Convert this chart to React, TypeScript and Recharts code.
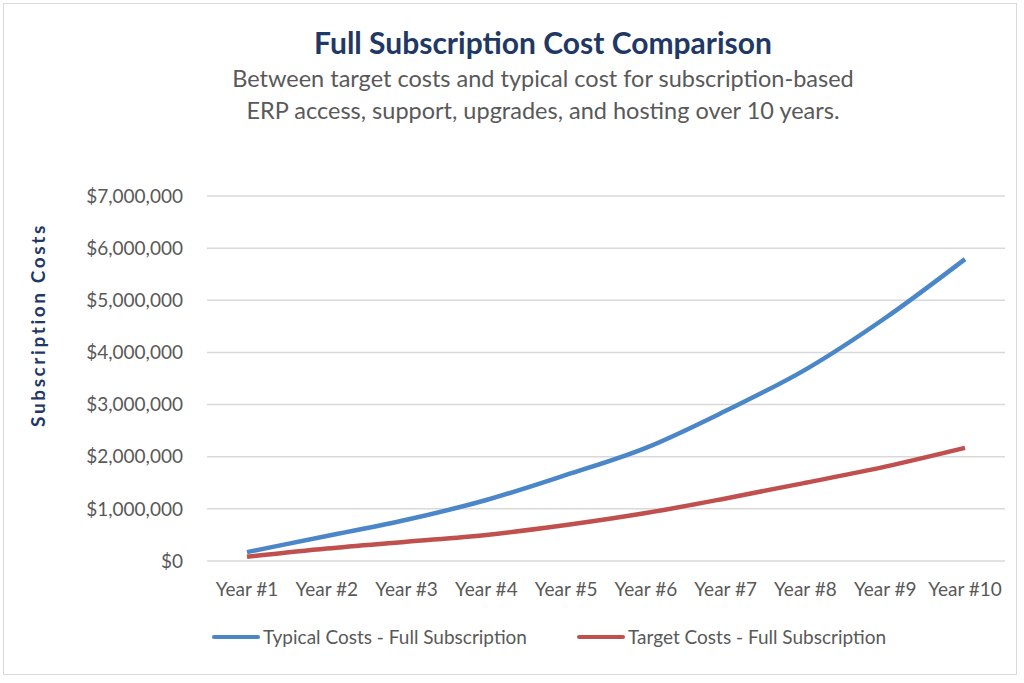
import {CartesianGrid, Legend, Line, LineChart, XAxis, YAxis} from 'recharts'

const years = ['Year #1', 'Year #2', 'Year #3', 'Year #4', 'Year #5', 'Year #6', 'Year #7', 'Year #8', 'Year #9', 'Year #10']
const typicalCosts = [170000, 480000, 790000, 1170000, 1650000, 2170000, 2880000, 3670000, 4660000, 5790000]
const targetCosts = [80000, 240000, 370000, 500000, 690000, 920000, 1200000, 1500000, 1810000, 2170000]
const yTicks = [0, 1000000, 2000000, 3000000, 4000000, 5000000, 6000000, 7000000]

const FONT = 'Lato, "Open Sans", sans-serif'
const BLUE = '#4A86C8'
const RED = '#C0504D'
const GRAY = '#595959'
const NAVY = '#1F3864'

const data = years.map((y, i) => ({year: y, typical: typicalCosts[i], target: targetCosts[i]}))
const money = new Intl.NumberFormat('en-US', {style: 'currency', currency: 'USD', maximumFractionDigits: 0})

function LegendBox() {
    const items = [
        {label: 'Typical Costs - Full Subscription', color: BLUE, x: 212},
        {label: 'Target Costs - Full Subscription', color: RED, x: 577},
    ]
    return (
        <div style={{position: 'relative', height: 24}}>
            {items.map(it => (
                <div key={it.label} style={{position: 'absolute', left: it.x, top: 0, display: 'flex', alignItems: 'center'}}>
                    <span style={{display: 'inline-block', width: 48, height: 4, borderRadius: 2, background: it.color, marginRight: 3}}/>
                    <span style={{fontFamily: FONT, fontSize: 19, color: GRAY}}>{it.label}</span>
                </div>
            ))}
        </div>
    )
}

export default function App() {
    return (
        <div style={{position: 'absolute', left: 0, top: 0, width: 1024, height: 683, background: '#fff'}}>
            <div style={{position: 'absolute', left: 3, top: 3, width: 1014, height: 672, border: '1px solid #d9d9d9', boxSizing: 'border-box'}}/>
            <div style={{position: 'absolute', left: 0, width: 1086, top: 24, textAlign: 'center', fontFamily: FONT, fontWeight: 700, fontSize: 30, color: NAVY}}>
                Full Subscription Cost Comparison
            </div>
            <div style={{position: 'absolute', left: 0, width: 1086, top: 62, textAlign: 'center', fontFamily: FONT, fontSize: 23.5, lineHeight: '32px', color: GRAY}}>
                Between target costs and typical cost for subscription-based<br/>
                ERP access, support, upgrades, and hosting over 10 years.
            </div>
            <div style={{
                position: 'absolute', left: 37, top: 325, transform: 'translate(-50%, -50%) rotate(-90deg)',
                whiteSpace: 'nowrap', fontFamily: FONT, fontWeight: 700, fontSize: 19, letterSpacing: 2.6, color: NAVY,
            }}>
                Subscription Costs
            </div>
            <div style={{position: 'absolute', left: 0, top: 0}}>
                <LineChart width={1024} height={683} data={data} margin={{top: 196, right: 19, left: 60, bottom: 68}}>
                    <CartesianGrid vertical={false} stroke="#d9d9d9" strokeWidth={1.5}/>
                    <XAxis dataKey="year" padding={{left: 40, right: 40}} axisLine={false} tickLine={false}
                           tickMargin={16} interval={0}
                           tick={{fontSize: 19, fill: GRAY, fontFamily: FONT}}/>
                    <YAxis width={147} domain={[0, 7000000]} ticks={yTicks} axisLine={false} tickLine={false}
                           tickMargin={18} tickFormatter={(v) => money.format(v as number)}
                           tick={{fontSize: 19, fill: GRAY, fontFamily: FONT}}/>
                    <Legend verticalAlign="bottom" content={() => <LegendBox/>}
                            wrapperStyle={{left: 0, width: 1024, top: 625}}/>
                    <Line type="monotone" dataKey="typical" name="Typical Costs - Full Subscription" stroke={BLUE}
                          strokeWidth={4.5} dot={false} isAnimationActive={false}/>
                    <Line type="monotone" dataKey="target" name="Target Costs - Full Subscription" stroke={RED}
                          strokeWidth={4.5} dot={false} isAnimationActive={false}/>
                </LineChart>
            </div>
        </div>
    )
}
